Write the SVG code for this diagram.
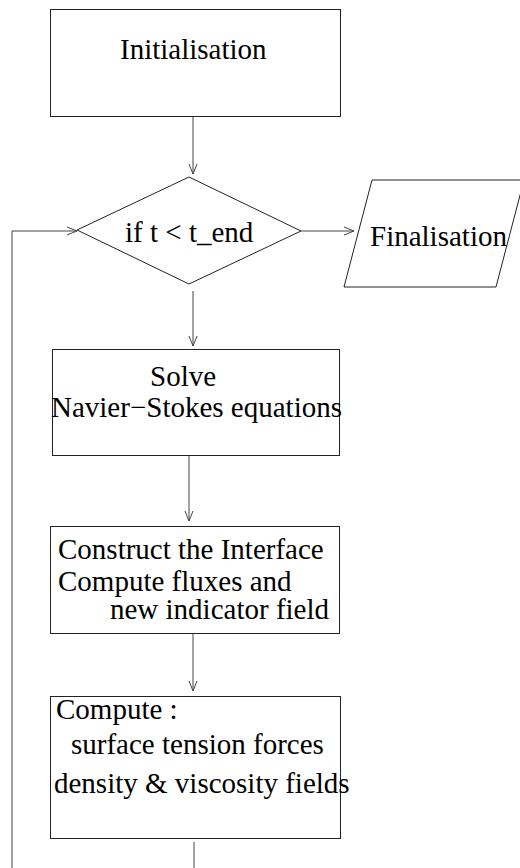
<svg xmlns="http://www.w3.org/2000/svg" width="520" height="868" viewBox="0 0 520 868">
<style>
.box{fill:#fff;stroke:#222;stroke-width:1}
.ln{fill:none;stroke:#444;stroke-width:1}
text{font-family:"Liberation Serif","Times New Roman",serif;font-size:29px;fill:#000}
</style>
<defs>
<marker id="ah" viewBox="0 0 10 10" refX="10" refY="5" markerWidth="10" markerHeight="10" markerUnits="userSpaceOnUse" orient="auto">
<path d="M0,1 L10,5 L0,9" fill="none" stroke="#444" stroke-width="1"/>
</marker>
</defs>
<rect width="520" height="868" fill="#fff"/>
<g id="connectors">
<line class="ln" x1="193" y1="117" x2="193" y2="174" marker-end="url(#ah)"/>
<line class="ln" x1="301" y1="231" x2="354" y2="231" marker-end="url(#ah)"/>
<line class="ln" x1="193" y1="291" x2="193" y2="346" marker-end="url(#ah)"/>
<line class="ln" x1="189" y1="455" x2="189" y2="521" marker-end="url(#ah)"/>
<line class="ln" x1="193" y1="633" x2="193" y2="691" marker-end="url(#ah)"/>
<line class="ln" x1="194" y1="842" x2="194" y2="868"/>
<polyline class="ln" points="12,868 12,231 77,231" marker-end="url(#ah)"/>
</g>
<g id="init">
<rect class="box" x="50.5" y="9.5" width="290" height="107"/>
<text x="120" y="59">Initialisation</text>
</g>
<g id="decision">
<polygon class="box" points="189,177 301,231 189,284 77,230"/>
<text x="125" y="242">if t &lt; t_end</text>
</g>
<g id="final">
<polygon class="box" points="372,180 524,180 496,287 344,287"/>
<text x="370" y="246">Finalisation</text>
</g>
<g id="solve">
<rect class="box" x="52.5" y="349.5" width="287" height="106"/>
<text x="150" y="386">Solve</text>
<text x="51" y="417">Navier−Stokes equations</text>
</g>
<g id="construct">
<rect class="box" x="50.5" y="526.5" width="289" height="107"/>
<text x="58" y="559">Construct the Interface</text>
<text x="58" y="591">Compute fluxes and</text>
<text x="110" y="619">new indicator field</text>
</g>
<g id="compute">
<rect class="box" x="50.5" y="696.5" width="290" height="142"/>
<text x="56" y="719">Compute :</text>
<text x="71" y="754">surface tension forces</text>
<text x="54" y="793">density &amp; viscosity fields</text>
</g>
</svg>
